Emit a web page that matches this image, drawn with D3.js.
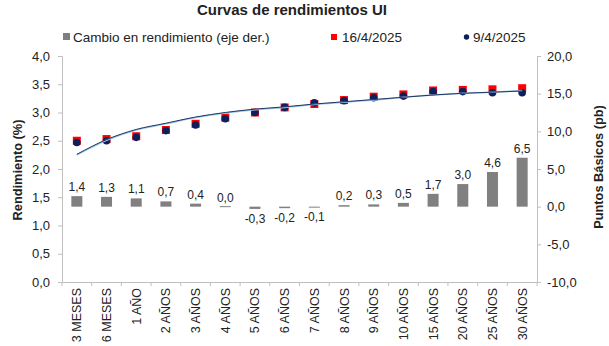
<!DOCTYPE html>
<html>
<head>
<meta charset="utf-8">
<script src="https://cdn.jsdelivr.net/npm/d3@7"></script>
<style>
  body { margin: 0; background: #fff; }
  text { font-family: "Liberation Sans", Arial, sans-serif; fill: #222; }
</style>
</head>
<body>
<script>
// data
const plazos = ['3 MESES', '6 MESES', '1 AÑO', '2 AÑOS', '3 AÑOS', '4 AÑOS', '5 AÑOS', '6 AÑOS',
                '7 AÑOS', '8 AÑOS', '9 AÑOS', '10 AÑOS', '15 AÑOS', '20 AÑOS', '25 AÑOS', '30 AÑOS'];
const cambioPb = [1.4, 1.3, 1.1, 0.7, 0.4, 0.0, -0.3, -0.2, -0.1, 0.2, 0.3, 0.5, 1.7, 3.0, 4.6, 6.5];
const tasa1604 = [2.50, 2.53, 2.58, 2.69, 2.80, 2.91, 3.00, 3.09, 3.15, 3.22, 3.28, 3.32, 3.39, 3.40, 3.41, 3.43];
const tasa0904 = [2.47, 2.50, 2.56, 2.68, 2.78, 2.89, 3.00, 3.09, 3.17, 3.21, 3.26, 3.29, 3.37, 3.37, 3.35, 3.35];
// fitted curves (dark = 9/4, light = 16/4)
const ajuste0904 = [2.26, 2.52, 2.70, 2.81, 2.92, 3.00, 3.06, 3.10, 3.15, 3.19, 3.23, 3.27, 3.31, 3.34, 3.36, 3.38];
const ajuste1604 = [2.25, 2.51, 2.69, 2.80, 2.91, 2.99, 3.05, 3.09, 3.14, 3.18, 3.22, 3.27, 3.31, 3.34, 3.36, 3.39];
const ticksIzq = [0, 0.5, 1, 1.5, 2, 2.5, 3, 3.5, 4];
const ticksDer = [-10, -5, 0, 5, 10, 15, 20];

let width = 609;
let height = 346;
let mLeft = 62, mRight = 537, mTop = 56, mBottom = 282;

let svg = d3.select('body').append('svg')
  .attr('width', width)
  .attr('height', height);

let fmt = (v) => d3.format('.1f')(v).replace('.', ',').replace('−', '-');

let x = d3.scaleBand().domain(plazos).range([mLeft, mRight]);
let yIzq = d3.scaleLinear().domain([0, 4]).range([mBottom, mTop]);
let yDer = d3.scaleLinear().domain([-10, 20]).range([mBottom, mTop]);
let cx = (d) => x(d) + x.bandwidth() / 2;

// title
svg.append('text')
  .attr('x', 292).attr('y', 15)
  .attr('text-anchor', 'middle')
  .style('font-size', '15px').style('font-weight', 'bold')
  .text('Curvas de rendimientos UI');

// legend
let leg = svg.append('g').style('font-size', '13.5px');
leg.append('rect').attr('x', 63).attr('y', 33).attr('width', 7).attr('height', 7).attr('fill', '#7f7f7f');
leg.append('text').attr('x', 73).attr('y', 42).text('Cambio en rendimiento (eje der.)');
leg.append('rect').attr('x', 331).attr('y', 34).attr('width', 6).attr('height', 6).attr('fill', '#ff0000');
leg.append('text').attr('x', 342).attr('y', 42).text('16/4/2025');
leg.append('circle').attr('cx', 466.5).attr('cy', 37).attr('r', 2.7).attr('fill', '#0d1f5c');
leg.append('text').attr('x', 473).attr('y', 42).text('9/4/2025');

// axes
let axisIzq = svg.append('g')
  .attr('transform', `translate(${mLeft},0)`)
  .call(d3.axisLeft(yIzq).tickValues(ticksIzq).tickFormat(fmt).tickSize(4).tickPadding(8));
let axisDer = svg.append('g')
  .attr('transform', `translate(${mRight},0)`)
  .call(d3.axisRight(yDer).tickValues(ticksDer).tickFormat(fmt).tickSize(4).tickPadding(6));
let axisX = svg.append('g')
  .attr('transform', `translate(0,${mBottom})`)
  .call(d3.axisBottom(x).tickSize(0).tickFormat(''));

[axisIzq, axisDer, axisX].forEach((g) => {
  g.select('.domain').attr('stroke', '#bfbfbf');
  g.selectAll('.tick line').attr('stroke', '#bfbfbf');
  g.selectAll('.tick text').style('font-size', '13px').style('font-family', '"Liberation Sans", Arial, sans-serif').attr('fill', '#222');
});

// x ticks between categories
svg.selectAll('.xtick')
  .data(plazos.concat(['fin']))
  .enter()
  .append('line')
  .attr('x1', (d, i) => mLeft + i * x.step())
  .attr('x2', (d, i) => mLeft + i * x.step())
  .attr('y1', mBottom).attr('y2', mBottom + 4)
  .attr('stroke', '#bfbfbf');

// x labels rotated
svg.selectAll('.xlab')
  .data(plazos)
  .enter()
  .append('text')
  .attr('transform', (d) => `translate(${cx(d) + 4.5},${mBottom + 6}) rotate(-90)`)
  .attr('text-anchor', 'end')
  .style('font-size', '12.5px')
  .text((d) => d);

// axis titles
svg.append('text')
  .attr('transform', `translate(22,170) rotate(-90)`)
  .attr('text-anchor', 'middle')
  .style('font-size', '12.8px').style('font-weight', 'bold')
  .text('Rendimiento (%)');
svg.append('text')
  .attr('transform', `translate(603,167) rotate(-90)`)
  .attr('text-anchor', 'middle')
  .style('font-size', '12.8px').style('font-weight', 'bold')
  .text('Puntos Básicos (pb)');

// bars (right axis)
let barW = 11;
svg.selectAll('.bar')
  .data(plazos)
  .enter()
  .append('rect')
  .attr('x', (d) => cx(d) - barW / 2)
  .attr('y', (d, i) => Math.min(yDer(cambioPb[i]), yDer(0)) - (cambioPb[i] === 0 ? 0.5 : 0))
  .attr('width', barW)
  .attr('height', (d, i) => Math.max(Math.abs(yDer(cambioPb[i]) - yDer(0)), 1))
  .attr('fill', '#808080');

svg.selectAll('.barlab')
  .data(plazos)
  .enter()
  .append('text')
  .attr('x', (d) => cx(d))
  .attr('y', (d, i) => cambioPb[i] < 0 ? yDer(cambioPb[i]) + 14 : yDer(cambioPb[i]) - 5)
  .attr('text-anchor', 'middle')
  .style('font-size', '12px')
  .text((d, i) => fmt(cambioPb[i]));

// markers
svg.selectAll('.sq')
  .data(plazos)
  .enter()
  .append('rect')
  .attr('x', (d) => cx(d) - 4)
  .attr('y', (d, i) => yIzq(tasa1604[i]) - 4)
  .attr('width', 8).attr('height', 8)
  .attr('fill', '#ff0000');
svg.selectAll('.dot')
  .data(plazos)
  .enter()
  .append('circle')
  .attr('cx', (d) => cx(d))
  .attr('cy', (d, i) => yIzq(tasa0904[i]))
  .attr('r', 3.8)
  .attr('fill', '#0d1f5c');

// fitted curves
let curva = (vals) => d3.line()
  .x((d) => cx(d))
  .y((d, i) => yIzq(vals[i]))
  .curve(d3.curveMonotoneX)(plazos);
svg.append('path').attr('d', curva(ajuste1604)).attr('fill', 'none').attr('stroke', '#9dc3e6').attr('stroke-width', 1.5);
svg.append('path').attr('d', curva(ajuste0904)).attr('fill', 'none').attr('stroke', '#1f3864').attr('stroke-width', 1);
</script>
</body>
</html>
